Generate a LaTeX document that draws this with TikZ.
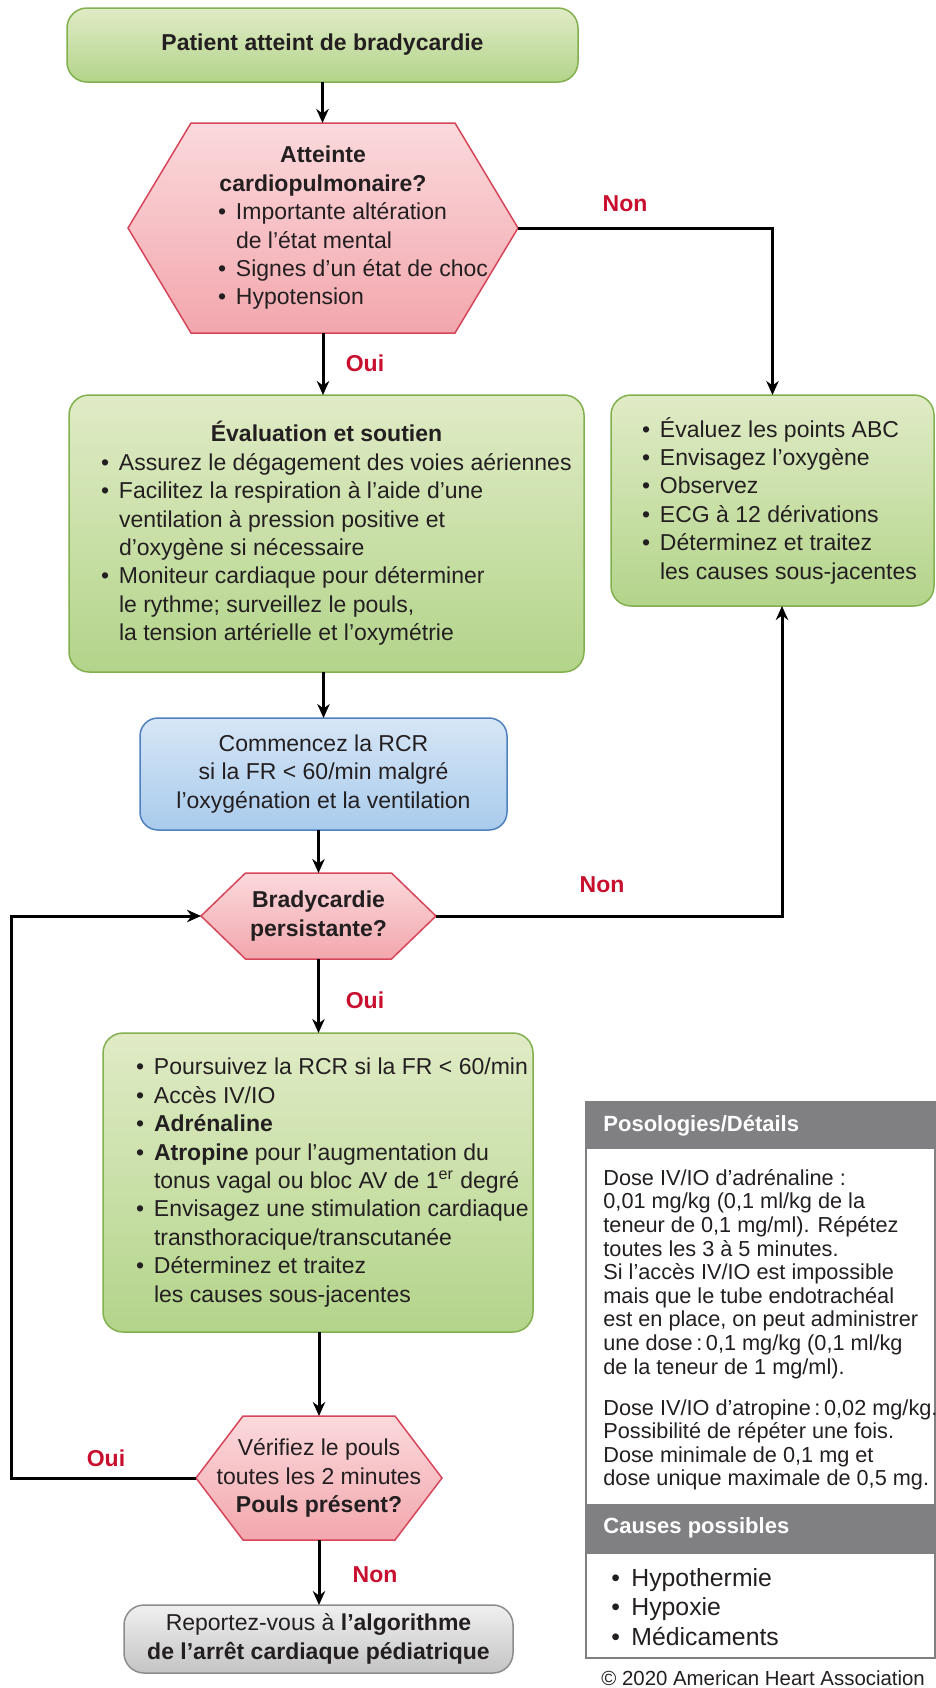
\documentclass[tikz,border=0pt]{standalone}
\usepackage{fontspec}
\setmainfont{Liberation Sans}
\usetikzlibrary{arrows.meta,calc}
\pgfdeclarelayer{background}
\pgfsetlayers{background,main}

\definecolor{gTop}{HTML}{E0EBC6}
\definecolor{gBot}{HTML}{B3D48A}
\definecolor{gLine}{HTML}{82B04E}
\definecolor{pTop}{HTML}{FBD9DC}
\definecolor{pBot}{HTML}{F2A7AD}
\definecolor{pLine}{HTML}{D6465A}
\definecolor{bTop}{HTML}{D6E6F6}
\definecolor{bBot}{HTML}{A9CBEC}
\definecolor{bLine}{HTML}{4F81BD}
\definecolor{eTop}{HTML}{F0F0F0}
\definecolor{eBot}{HTML}{C4C4C4}
\definecolor{eLine}{HTML}{8C8C8C}
\definecolor{hdr}{HTML}{808083}
\definecolor{lbl}{HTML}{C8102E}
\definecolor{ink}{HTML}{231F20}

\newcommand\bl[2]{\makebox[#1][l]{\makebox[9pt][l]{\textbullet}#2}}
\newcommand\cl[2]{\makebox[#1][l]{\hspace*{9pt}#2}}

\begin{document}
\begin{tikzpicture}[x=0.5pt,y=-0.5pt,
  font=\fontsize{11.5}{14.2}\selectfont,
  box/.style={rounded corners=10pt, draw, line width=0.75pt, inner sep=0pt, outer sep=0pt, align=center, text=ink},
  greenbox/.style={box, draw=gLine, top color=gTop, bottom color=gBot},
  bluebox/.style={box, draw=bLine, top color=bTop, bottom color=bBot},
  endbox/.style={box, draw=eLine, top color=eTop, bottom color=eBot},
  hexnode/.style={inner sep=0pt, outer sep=0pt, align=center, text=ink},
  hexfill/.style={draw=pLine, line width=0.75pt, top color=pTop, bottom color=pBot},
  arr/.style={line width=1.5pt, -{Stealth[length=7pt,width=6.2pt]}},
  yn/.style={text=lbl, font=\fontsize{11.5}{14}\selectfont\bfseries, inner sep=0pt},
  hdrtext/.style={text=white, font=\fontsize{11}{13}\selectfont\bfseries, anchor=west, inner sep=0pt},
  paneltext/.style={text=ink, font=\fontsize{10.85}{11.8}\selectfont, anchor=north west, align=left, inner sep=0pt},
  causetext/.style={text=ink, font=\fontsize{12.4}{14.75}\selectfont, anchor=north west, align=left, inner sep=0pt}
]
\useasboundingbox (0,0) rectangle (936,1688);

% ---------- flowchart nodes ----------
\node[greenbox, minimum width=255.5pt, minimum height=37pt] (start) at (322.5,45)
  {\textbf{Patient atteint de bradycardie}};

\node[hexnode, minimum width=195pt, minimum height=105pt] (h1) at (323,228) {%
  \textbf{Atteinte}\\
  \textbf{cardiopulmonaire?}\\
  \bl{105pt}{Importante altération}\\
  \cl{105pt}{de l’état mental}\\
  \bl{105pt}{Signes d’un état de choc}\\
  \bl{105pt}{Hypotension}};

\node[greenbox, minimum width=257.5pt, minimum height=138.5pt] (eval) at (326.5,533.5) {%
  \textbf{Évaluation et soutien}\\
  \bl{225.5pt}{Assurez le dégagement des voies aériennes}\\
  \bl{225.5pt}{Facilitez la respiration à l’aide d’une}\\
  \cl{225.5pt}{ventilation à pression positive et}\\
  \cl{225.5pt}{d’oxygène si nécessaire}\\
  \bl{225.5pt}{Moniteur cardiaque pour déterminer}\\
  \cl{225.5pt}{le rythme; surveillez le pouls,}\\
  \cl{225.5pt}{la tension artérielle et l’oxymétrie}};

\node[greenbox, minimum width=161.5pt, minimum height=105.5pt] (obs) at (772.5,500.5) {%
  \bl{130.5pt}{Évaluez les points ABC}\\
  \bl{130.5pt}{Envisagez l’oxygène}\\
  \bl{130.5pt}{Observez}\\
  \bl{130.5pt}{ECG à 12 dérivations}\\
  \bl{130.5pt}{Déterminez et traitez}\\
  \cl{130.5pt}{les causes sous-jacentes}};

\node[bluebox, rounded corners=9pt, minimum width=183.5pt, minimum height=56pt] (rcr) at (323.5,774) {%
  Commencez la RCR\\
  si la FR < 60/min malgré\\
  l’oxygénation et la ventilation};

\node[hexnode, minimum width=117.5pt, minimum height=43pt] (h2) at (318.5,916) {%
  \textbf{Bradycardie}\\
  \textbf{persistante?}};

\node[greenbox, minimum width=215pt, minimum height=149.5pt] (treat) at (318,1182.5) {%
  \bl{182pt}{Poursuivez la RCR si la FR < 60/min}\\
  \bl{182pt}{Accès IV/IO}\\
  \bl{182pt}{\textbf{Adrénaline}}\\
  \bl{182pt}{\textbf{Atropine} pour l’augmentation du}\\
  \cl{182pt}{tonus vagal ou bloc AV de 1\textsuperscript{er} degré}\\
  \bl{182pt}{Envisagez une stimulation cardiaque}\\
  \cl{182pt}{transthoracique/transcutanée}\\
  \bl{182pt}{Déterminez et traitez}\\
  \cl{182pt}{les causes sous-jacentes}};

\node[hexnode, minimum width=123pt, minimum height=62pt] (h3) at (319,1478) {%
  Vérifiez le pouls\\
  toutes les 2 minutes\\
  \textbf{Pouls présent?}};

\node[endbox, minimum width=194.5pt, minimum height=34pt] (fin) at (318.5,1639) {%
  Reportez-vous à \textbf{l’algorithme}\\
  \textbf{de l’arrêt cardiaque pédiatrique}};

% ---------- background: page and hexagons ----------
\begin{pgfonlayer}{background}
  \fill[white] (0,0) rectangle (936,1688);
  \foreach \n/\d in {h1/31.5pt, h2/22.25pt, h3/23.5pt}
    \path[hexfill] (\n.west) -- ([xshift=\d]\n.north west) -- ([xshift=-\d]\n.north east)
      -- (\n.east) -- ([xshift=-\d]\n.south east) -- ([xshift=\d]\n.south west) -- cycle;
\end{pgfonlayer}

% ---------- connectors ----------
\draw[arr] (start.south) -- (start.south |- h1.north);
\draw[arr] (h1.south) -- (h1.south |- eval.north);
\draw[arr] (h1.east) -| (obs.north);
\draw[arr] (rcr.north |- eval.south) -- (rcr.north);
\draw[arr] (h2.north |- rcr.south) -- (h2.north);
\draw[arr] (h2.east) -| ([xshift=4.75pt]obs.south);
\draw[arr] (h2.south) -- (h2.south |- treat.north);
\draw[arr] (h3.north |- treat.south) -- (h3.north);
\draw[arr] (h3.south) -- (h3.south |- fin.north);
\coordinate (loopx) at (11,1478);
\draw[arr] (h3.west) -- (loopx) |- (h2.west);

% ---------- labels ----------
\node[yn] (n1) at (625,204) {Non};
\node[yn] (o1) at (365,363) {Oui};
\node[yn] (n2) at (602,885) {Non};
\node[yn] (o2) at (365,1000) {Oui};
\node[yn] (o3) at (106,1458) {Oui};
\node[yn] (n3) at (375,1575) {Non};

% ---------- side panel ----------
\fill[hdr] (586,1102) rectangle (936,1149);
\fill[hdr] (586,1504) rectangle (936,1554);
\draw[hdr, line width=0.75pt] (586,1102) rectangle (935,1658);
\node[hdrtext] (ph1) at (603,1126) {Posologies/Détails};
\node[paneltext] (pt1) at (603,1169) {%
  Dose IV/IO d’adrénaline :\\
  0,01 mg/kg (0,1 ml/kg de la\\
  teneur de 0,1 mg/ml). Répétez\\
  toutes les 3 à 5 minutes.\\
  Si l’accès IV/IO est impossible\\
  mais que le tube endotrachéal\\
  est en place, on peut administrer\\
  une dose\,:\,0,1 mg/kg (0,1 ml/kg\\
  de la teneur de 1 mg/ml).};
\node[paneltext] (pt2) at (603,1399) {%
  Dose IV/IO d’atropine\,:\,0,02 mg/kg.\\
  Possibilité de répéter une fois.\\
  Dose minimale de 0,1 mg et\\
  dose unique maximale de 0,5 mg.};
\node[hdrtext] (ph2) at (603,1528) {Causes possibles};
\node[causetext] (pc) at (611,1568) {%
  \makebox[10pt][l]{\textbullet}Hypothermie\\
  \makebox[10pt][l]{\textbullet}Hypoxie\\
  \makebox[10pt][l]{\textbullet}Médicaments};
\node[anchor=base west, inner sep=0pt, font=\fontsize{10.2}{12}\selectfont, text=ink] (copy) at (601,1685)
  {© 2020 American Heart Association};
\end{tikzpicture}
\end{document}
